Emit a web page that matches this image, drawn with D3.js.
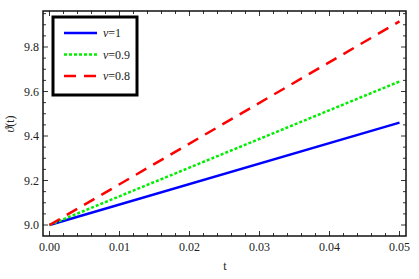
<!DOCTYPE html>
<html>
<head>
<meta charset="utf-8">
<script src="https://cdn.jsdelivr.net/npm/d3@7"></script>
<style>
  body { margin: 0; background: #fff; }
</style>
</head>
<body>
<div id="chart"></div>
<script>
// data
const tValues = [0, 0.05];
const theta1 = [9.0, 9.46];    // nu = 1
const theta09 = [9.0, 9.645];  // nu = 0.9
const theta08 = [9.0, 9.915];  // nu = 0.8
const seriesNames = ['1', '0.9', '0.8'];
const xTicks = [0, 0.01, 0.02, 0.03, 0.04, 0.05];
const yTicks = [9.0, 9.2, 9.4, 9.6, 9.8];

const WIDTH = 419;
const HEIGHT = 279;
const FONT = '"Liberation Serif", "Times New Roman", "DejaVu Serif", serif';

const svg = d3.select('#chart')
    .append('svg')
    .attr('width', WIDTH)
    .attr('height', HEIGHT)
    .attr('font-family', FONT);

const xScale = d3.scaleLinear()
    .domain([0, 0.05])
    .range([49.5, 399.5]);

const yScale = d3.scaleLinear()
    .domain([9.0, 9.8])
    .range([225, 47]);

const PLOT_LEFT = 43, PLOT_RIGHT = 406, PLOT_TOP = 11, PLOT_BOTTOM = 236;

// Ticks (inside, all four sides)
const minorX = d3.range(0, 0.0501, 0.002);
const minorY = d3.range(8.95, 9.96, 0.05);

const ticks = svg.append('g')
    .attr('stroke', '#333')
    .attr('stroke-width', 1);

minorX.forEach(v => {
    const x = xScale(v);
    const major = xTicks.some(t => Math.abs(t - v) < 1e-6);
    const len = major ? 5 : 3;
    ticks.append('line').attr('x1', x).attr('x2', x).attr('y1', PLOT_BOTTOM).attr('y2', PLOT_BOTTOM - len);
    ticks.append('line').attr('x1', x).attr('x2', x).attr('y1', PLOT_TOP).attr('y2', PLOT_TOP + len);
});

minorY.forEach(v => {
    const y = yScale(v);
    if (y < PLOT_TOP || y > PLOT_BOTTOM) return;
    const major = yTicks.some(t => Math.abs(t - v) < 1e-6);
    const len = major ? 5 : 3;
    ticks.append('line').attr('y1', y).attr('y2', y).attr('x1', PLOT_LEFT).attr('x2', PLOT_LEFT + len);
    ticks.append('line').attr('y1', y).attr('y2', y).attr('x1', PLOT_RIGHT).attr('x2', PLOT_RIGHT - len);
});

// Tick labels
svg.selectAll('.xlabel')
    .data(xTicks)
    .enter()
    .append('text')
    .attr('x', d => xScale(d))
    .attr('y', PLOT_BOTTOM + 15)
    .attr('text-anchor', 'middle')
    .attr('font-size', 12)
    .attr('fill', '#222')
    .text(d => d3.format('.2f')(d));

svg.selectAll('.ylabel')
    .data(yTicks)
    .enter()
    .append('text')
    .attr('x', PLOT_LEFT - 4)
    .attr('y', d => yScale(d) + 4)
    .attr('text-anchor', 'end')
    .attr('font-size', 12)
    .attr('fill', '#222')
    .text(d => d3.format('.1f')(d));

// Axis titles
svg.append('text')
    .attr('x', 225)
    .attr('y', 270)
    .attr('text-anchor', 'middle')
    .attr('font-size', 12)
    .attr('fill', '#222')
    .text('t');

svg.append('text')
    .attr('transform', 'translate(14,124) rotate(-90)')
    .attr('text-anchor', 'middle')
    .attr('font-size', 12)
    .attr('fill', '#222')
    .html('<tspan font-style="italic">ϑ</tspan>(t)');

// Lines
const series = [
    { values: theta1, color: '#0000ff', dash: null },
    { values: theta09, color: '#00ee00', dash: '3,2' },
    { values: theta08, color: '#ff0000', dash: '12,8' }
];

const line = d3.line()
    .x((d, i) => xScale(tValues[i]))
    .y(d => yScale(d));

svg.selectAll('.series')
    .data(series)
    .enter()
    .append('path')
    .attr('d', d => line(d.values))
    .attr('fill', 'none')
    .attr('stroke', d => d.color)
    .attr('stroke-width', 2.5)
    .attr('stroke-dasharray', d => d.dash);

// Frame
svg.append('rect')
    .attr('x', PLOT_LEFT)
    .attr('y', PLOT_TOP)
    .attr('width', PLOT_RIGHT - PLOT_LEFT)
    .attr('height', PLOT_BOTTOM - PLOT_TOP)
    .attr('fill', 'none')
    .attr('stroke', '#111')
    .attr('stroke-width', 1.5);

// Legend
const legend = svg.append('g');
legend.append('rect')
    .attr('x', 53)
    .attr('y', 17)
    .attr('width', 84)
    .attr('height', 78)
    .attr('fill', '#fff')
    .attr('stroke', '#000')
    .attr('stroke-width', 3);

series.forEach((s, i) => {
    const y = 33 + i * 21.5;
    legend.append('line')
        .attr('x1', 64).attr('x2', 97)
        .attr('y1', y).attr('y2', y)
        .attr('stroke', s.color)
        .attr('stroke-width', 2.5)
        .attr('stroke-dasharray', s.dash);
    legend.append('text')
        .attr('x', 103)
        .attr('y', y + 4)
        .attr('font-size', 12)
        .attr('fill', '#222')
        .html('<tspan font-style="italic">ν</tspan>=' + seriesNames[i]);
});
</script>
</body>
</html>
